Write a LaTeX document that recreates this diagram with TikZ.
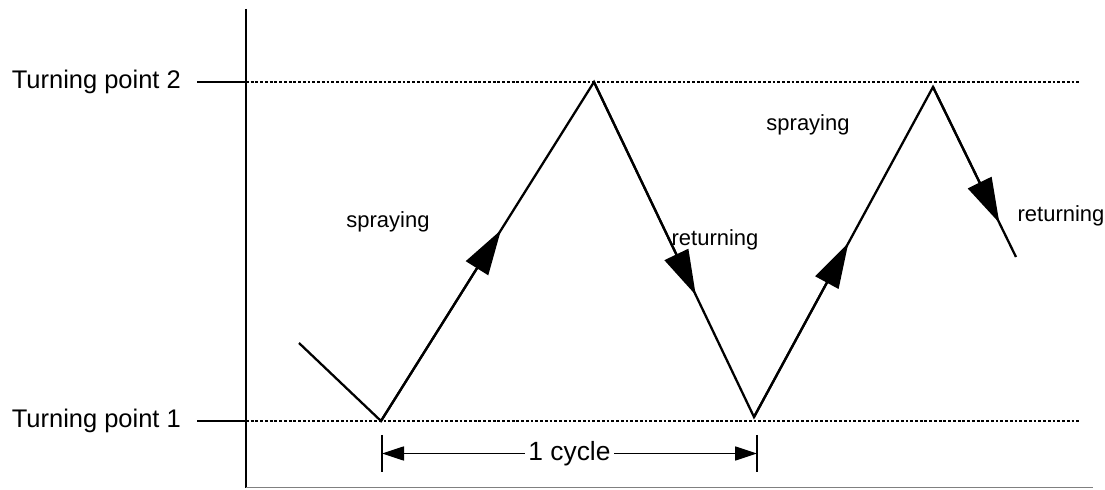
\documentclass[tikz,border=0pt]{standalone}
\usepackage{fontspec}
\setmainfont{Liberation Sans}
\usetikzlibrary{arrows.meta,calc}

\begin{document}
\begin{tikzpicture}[
    line width=1.3pt,
    tplabel/.style={font=\fontsize{14.5}{17}\selectfont, inner sep=0pt},
    motion/.style={font=\fontsize{12.5}{15}\selectfont},
    bighead/.style={-{Triangle[length=0.9cm,width=0.52cm]}},
    guide/.style={line width=0.8pt, dash pattern=on 1.6pt off 1.1pt}
]
    \useasboundingbox (0,0) rectangle (22.1,9.78);

    % Axes
    \coordinate (axtop) at (4.92,9.6);
    \coordinate (axorig) at (4.92,0.03);
    \coordinate (axright) at (21.86,0.03);
    \draw (axtop) -- (axorig);
    \draw[gray, line width=0.9pt] (axorig) -- (axright);

    % Turning point 2
    \node[tplabel, anchor=east] (tp2) at (3.64,8.14) {Turning point 2};
    \coordinate (tp2tick) at (3.94,8.14);
    \coordinate (tp2ax) at (4.92,8.14);
    \coordinate (tp2end) at (21.6,8.14);
    \draw (tp2tick) -- (tp2ax);
    \draw[guide] (tp2ax) -- (tp2end);

    % Turning point 1
    \node[tplabel, anchor=east] (tp1) at (3.64,1.36) {Turning point 1};
    \coordinate (tp1tick) at (3.94,1.36);
    \coordinate (tp1ax) at (4.92,1.36);
    \coordinate (tp1end) at (21.6,1.36);
    \draw (tp1tick) -- (tp1ax);
    \draw[guide] (tp1ax) -- (tp1end);

    % Zigzag path of the gun
    \coordinate (start) at (5.98,2.92);
    \coordinate (low1) at (7.62,1.36);
    \coordinate (high1) at (11.88,8.14);
    \coordinate (low2) at (15.08,1.44);
    \coordinate (high2) at (18.66,8.04);
    \coordinate (stop) at (20.32,4.64);
    \draw (start) -- (low1) -- (high1) -- (low2) -- (high2) -- (stop);

    % Direction arrows
    \draw[bighead] (low1) -- ($(low1)!0.563!(high1)$);
    \draw[bighead] (high1) -- ($(high1)!0.636!(low2)$);
    \draw[bighead] (low2) -- ($(low2)!0.527!(high2)$);
    \draw[bighead] (high2) -- ($(high2)!0.8!(stop)$);

    % Labels
    \node[motion] (spray1) at (7.76,5.34) {spraying};
    \node[motion] (ret1) at (14.3,4.98) {returning};
    \node[motion] (spray2) at (16.16,7.28) {spraying};
    \node[motion] (ret2) at (21.22,5.46) {returning};

    % One cycle
    \coordinate (cyc1top) at (7.64,1.08);
    \coordinate (cyc1bot) at (7.64,0.34);
    \coordinate (cyc2top) at (15.14,1.08);
    \coordinate (cyc2bot) at (15.14,0.34);
    \draw[line width=1pt] (cyc1top) -- (cyc1bot);
    \draw[line width=1pt] (cyc2top) -- (cyc2bot);
    \draw[line width=1pt, {Triangle[length=0.44cm,width=0.28cm]}-{Triangle[length=0.44cm,width=0.28cm]}]
        ($(cyc1top)!0.5!(cyc1bot)$) -- ($(cyc2top)!0.5!(cyc2bot)$)
        node[midway, fill=white, inner sep=2pt, font=\fontsize{15}{18}\selectfont] (cyc) {1 cycle};
\end{tikzpicture}
\end{document}
